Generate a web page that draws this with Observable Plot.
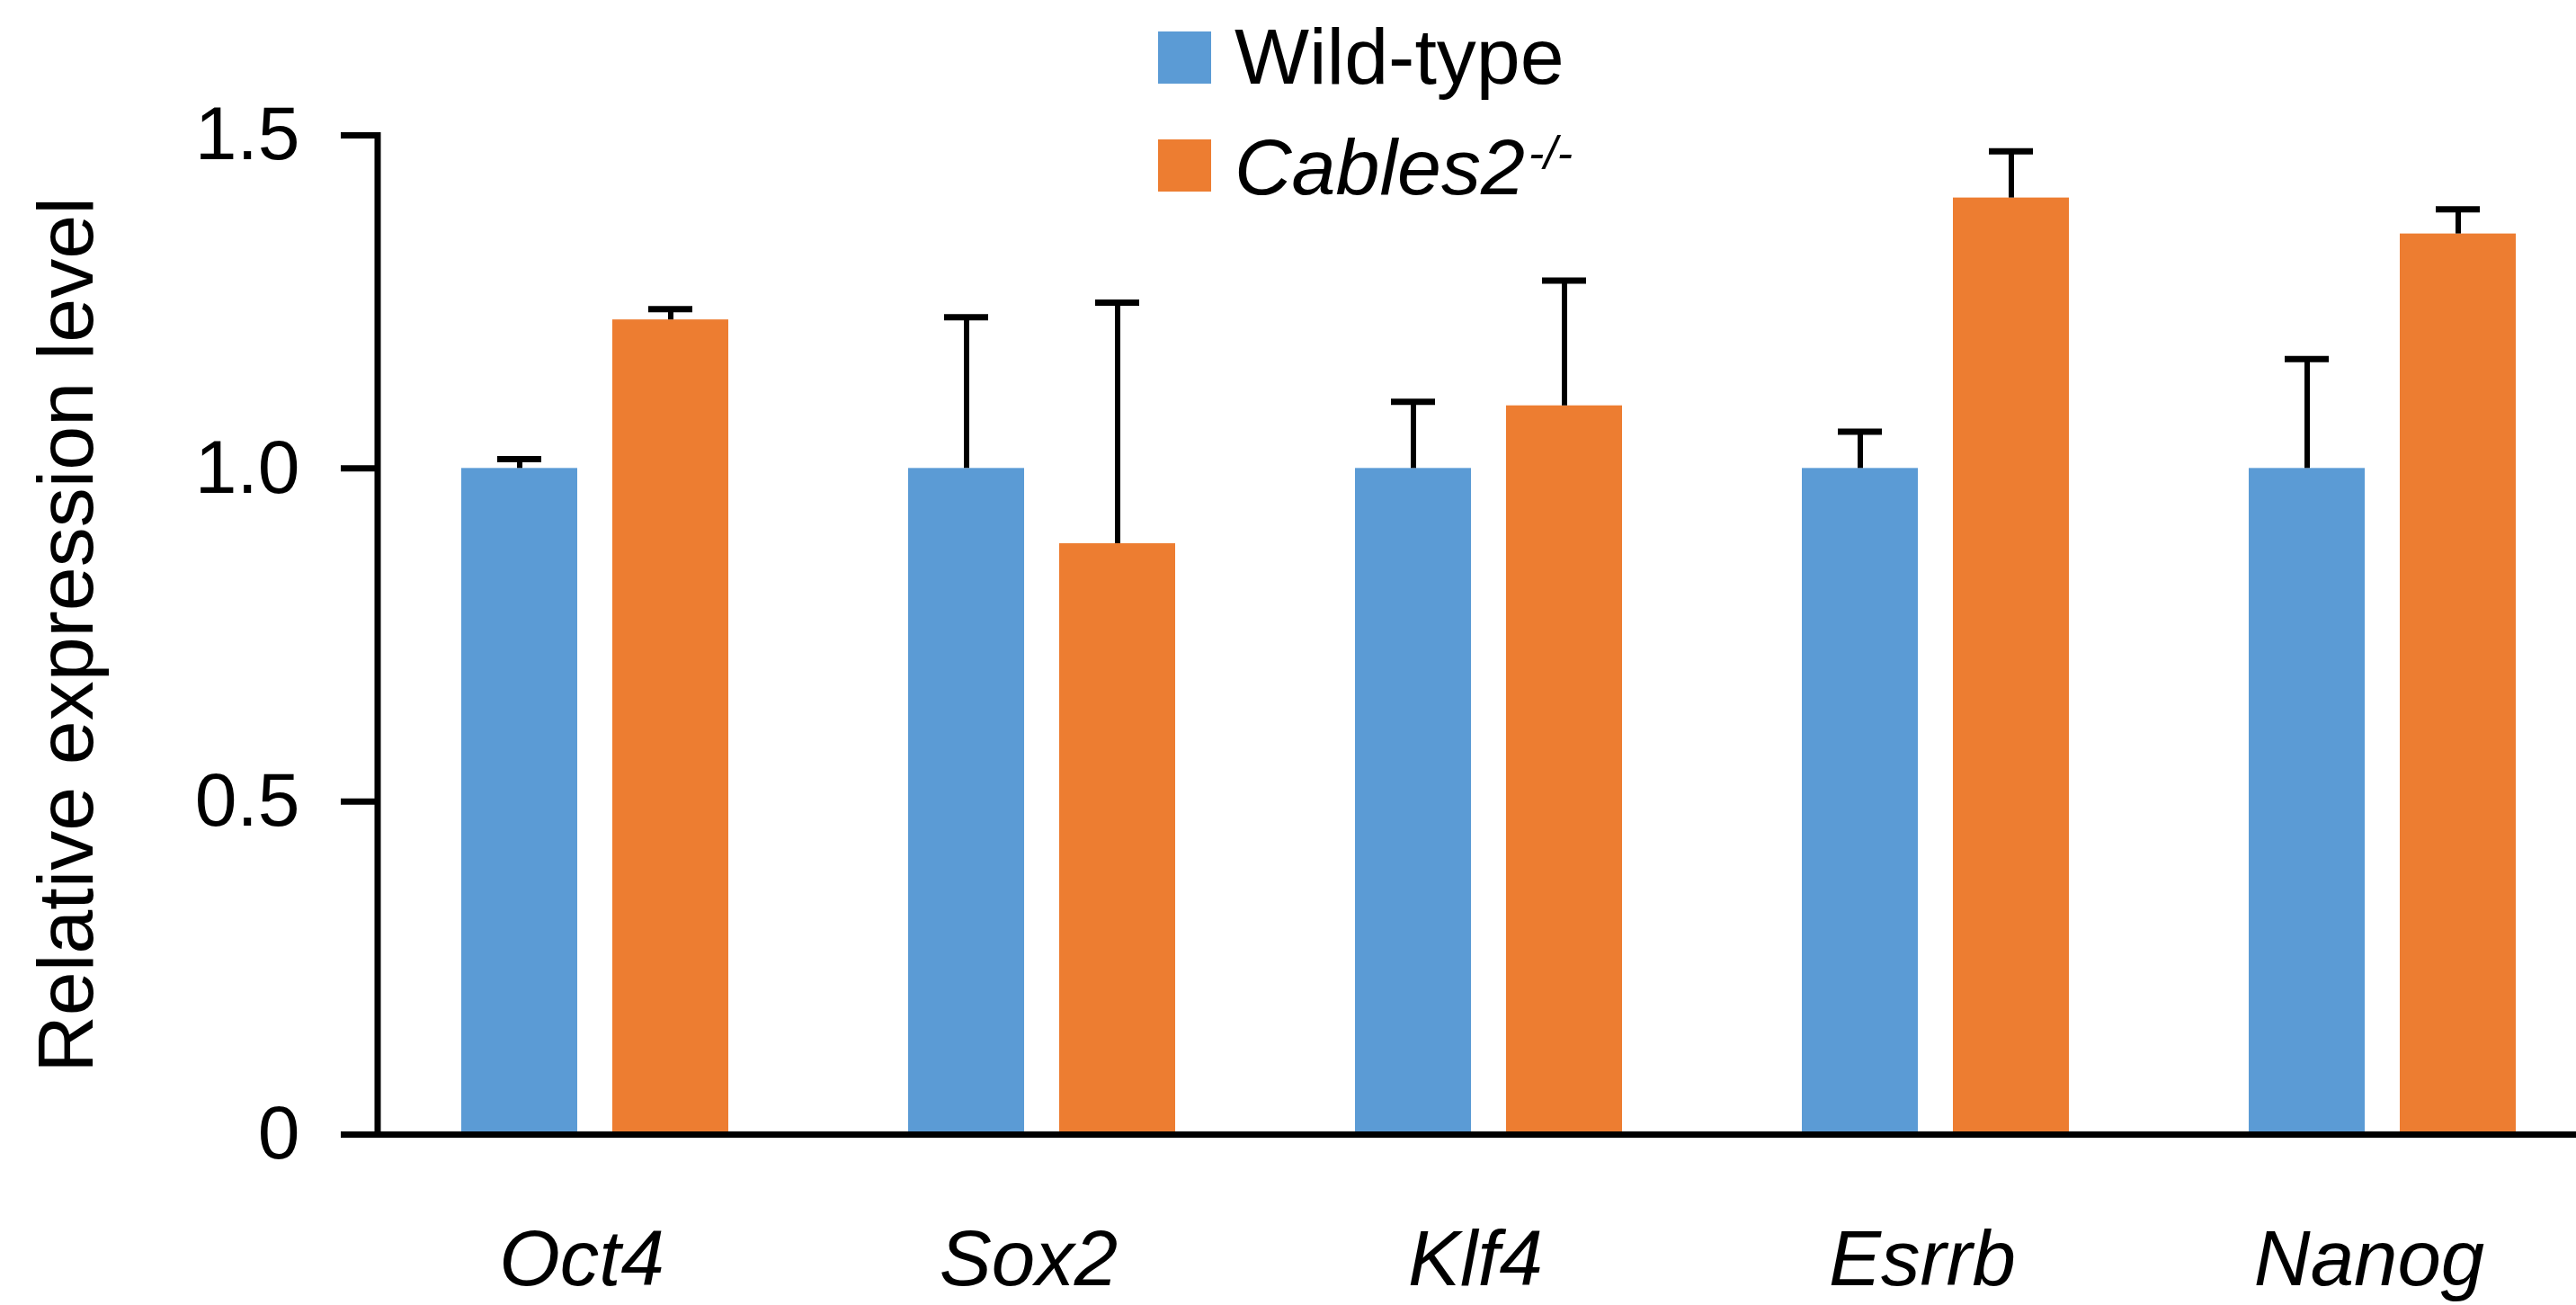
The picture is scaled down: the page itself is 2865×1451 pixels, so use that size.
<!DOCTYPE html>
<html>
<head>
<meta charset="utf-8">
<script src="https://cdn.jsdelivr.net/npm/d3@7"></script>
<script src="https://cdn.jsdelivr.net/npm/@observablehq/plot@0.6"></script>
<style>
html, body { margin: 0; padding: 0; background: #fff; }
#wrap { position: relative; width: 2865px; height: 1451px; font-family: "Liberation Sans", Arial, sans-serif; color: #000; }
#chart { position: absolute; left: 0; top: 0; }
.sw { position: absolute; width: 59px; height: 58px; }
.lt { position: absolute; font-size: 88px; line-height: 88px; white-space: nowrap; }
.lt i { font-style: italic; }
.lt .sup { font-size: 52px; font-style: italic; position: relative; top: -28px; margin-left: 4px; }
g[aria-label="fx-axis tick label"] text { font-style: italic; }
g[aria-label="y-axis label"] text { font-size: 88px; }
</style>
</head>
<body>
<div id="wrap">
  <div id="chart"></div>
  <div id="legend"></div>
</div>
<script>
// ---- data ----
const genes = ["Oct4", "Sox2", "Klf4", "Esrrb", "Nanog"];
const series = ["Wild-type", "Cables2-/-"];
const wildType = [1.0, 1.0, 1.0, 1.0, 1.0];
const wildTypeErr = [0.014, 0.227, 0.100, 0.055, 0.164];
const knockout = [1.223, 0.887, 1.094, 1.406, 1.352];
const knockoutErr = [0.016, 0.362, 0.188, 0.070, 0.037];
const colors = ["#5B9BD5", "#ED7D31"];
const yTicks = [0, 0.5, 1.0, 1.5];
const yTickLabels = ["0", "0.5", "1.0", "1.5"];
const yLabel = "Relative expression level";

const data = genes.flatMap((g, i) => [
  {gene: g, series: series[0], value: wildType[i], err: wildTypeErr[i]},
  {gene: g, series: series[1], value: knockout[i], err: knockoutErr[i]}
]);

const plot = Plot.plot({
  width: 2865,
  height: 1451,
  marginLeft: 420,
  marginRight: 0,
  marginTop: 150,
  marginBottom: 190,
  style: {fontFamily: '"Liberation Sans", Arial, sans-serif', fontSize: "84px", background: "white", color: "black"},
  fx: {domain: genes, range: [420, 2905], padding: 0},
  x: {domain: series, paddingInner: 0.231, paddingOuter: 0.586, align: 0.465, axis: null},
  y: {domain: [0, 1.5]},
  color: {domain: series, range: colors},
  marks: [
    Plot.barY(data, {fx: "gene", x: "series", y: "value", fill: "series"}),
    Plot.ruleX(data, {fx: "gene", x: "series", y1: "value", y2: d => d.value + d.err, stroke: "black", strokeWidth: 6}),
    Plot.tickY(data, {fx: "gene", x: "series", y: d => d.value + d.err, stroke: "black", strokeWidth: 7, insetLeft: 40, insetRight: 40}),
    Plot.ruleY([0], {stroke: "black", strokeWidth: 7}),
    Plot.axisY({
      ticks: yTicks,
      tickFormat: d => yTickLabels[yTicks.indexOf(d)],
      tickSize: 41,
      tickPadding: 46,
      strokeWidth: 7,
      fontSize: 84,
      label: yLabel,
      labelAnchor: "center",
      labelOffset: 380,
      labelArrow: "none"
    }),
    Plot.axisFx({anchor: "bottom", tickSize: 0, tickPadding: 106, fontSize: 87, fontStyle: "italic", label: null, dx: -22})
  ]
});

// y-axis spine, positioned with the plot's own scales
const fxS = plot.scale("fx"), yS = plot.scale("y");
const x0 = fxS.apply(genes[0]);
d3.select(plot).append("line")
  .attr("x1", x0).attr("x2", x0)
  .attr("y1", yS.apply(1.5) - 3).attr("y2", yS.apply(0) + 3.5)
  .attr("stroke", "black").attr("stroke-width", 7);

document.getElementById("chart").appendChild(plot);

// legend (overlaid at the top centre, as in the reference)
const legend = document.getElementById("legend");
const rows = [{top: 35, textTop: 19}, {top: 155, textTop: 142}];
series.forEach((s, i) => {
  const sw = document.createElement("div");
  sw.className = "sw";
  sw.style.left = "1288px";
  sw.style.top = rows[i].top + "px";
  sw.style.background = colors[i];
  legend.appendChild(sw);
  const t = document.createElement("div");
  t.className = "lt";
  t.style.left = "1373px";
  t.style.top = rows[i].textTop + "px";
  if (i === 0) {
    t.textContent = s;
  } else {
    const m = s.match(/^(.*?)(-\/-)$/);
    const it = document.createElement("i");
    it.textContent = m[1];
    const sup = document.createElement("span");
    sup.className = "sup";
    sup.textContent = m[2];
    t.appendChild(it);
    t.appendChild(sup);
  }
  legend.appendChild(t);
});
</script>
</body>
</html>
